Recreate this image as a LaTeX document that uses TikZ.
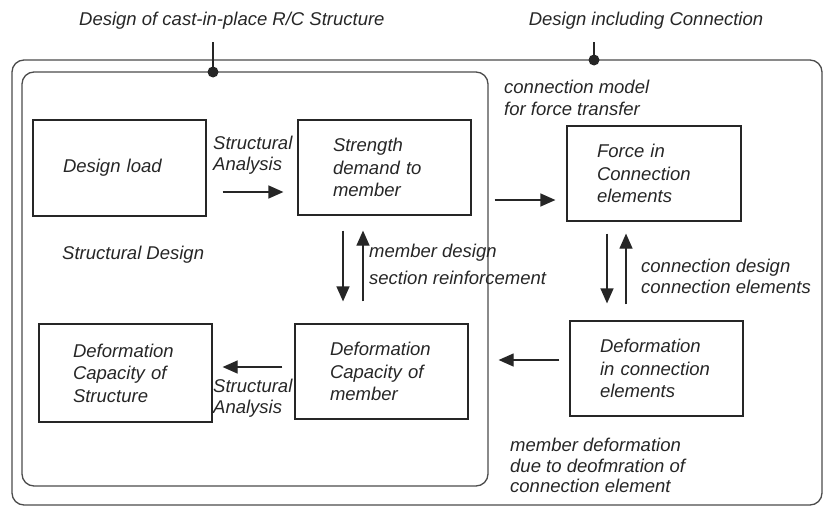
\documentclass[tikz,border=0pt]{standalone}
\usepackage{fontspec}
\setmainfont{Liberation Sans}
\usetikzlibrary{arrows.meta,calc}
\begin{document}
\begin{tikzpicture}[x=1pt,y=-1pt,
  every node/.style={font=\fontsize{18.5}{22.5}\selectfont\itshape, text=black!85, inner sep=0pt},
  frame/.style={draw=black!70, line width=1.3pt, rounded corners=12pt},
  box/.style={draw=black!85, line width=1.2pt, minimum height=95pt, align=left, inner ysep=0pt},
  arr/.style={draw=black!85, line width=1.2pt, -{Triangle[length=15pt,width=13pt]}},
  lbl/.style={anchor=base west},
  pin/.style={draw=black!85, line width=1.2pt},
  dot/.style={fill=black!85, circle, minimum size=11pt, inner sep=0pt}]
\useasboundingbox (0,0) rectangle (823,506);

% outer and inner design frames
\draw[frame] (12,60) rectangle (822,505);
\draw[frame] (22,72) rectangle (488,486);

% frame titles with their pins
\node[anchor=base west] (t1) at (79,25) {Design of cast-in-place R/C Structure};
\node[anchor=base] (t2) at (646,25) {Design including Connection};
\node[dot] (d1) at (213,72) {};
\node[dot] (d2) at (594,60) {};
\coordinate (p1) at (213,42);
\coordinate (p2) at (594,42);
\draw[pin] (p1) -- (d1.center);
\draw[pin] (p2) -- (d2.center);

% process boxes
\node[box, inner xsep=30pt, text width=113pt, minimum height=96pt] (dl) at (119.5,168) {Design load};
\node[box, inner xsep=35pt, text width=103pt] (sd) at (384.5,167.5) {Strength\\demand to\\member};
\node[box, inner xsep=30pt, text width=114pt] (fc) at (654,173.5) {Force in\\Connection\\elements};
\node[box, inner xsep=34pt, text width=105pt, minimum height=98pt] (ds) at (125.5,373) {Deformation\\Capacity of\\Structure};
\node[box, inner xsep=35pt, text width=103pt] (dm) at (381.5,371.5) {Deformation\\Capacity of\\member};
\node[box, inner xsep=30pt, text width=113pt] (dc) at (656.5,368.5) {Deformation\\in connection\\elements};

% connectors
\coordinate (a1) at ($(dl.east)+(16,24)$);
\draw[arr, shorten >=14pt] (a1) -- (a1 -| sd.west);
\coordinate (a2) at ($(sd.east)+(23,32.5)$);
\draw[arr, shorten >=11pt] (a2) -- (a2 -| fc.west);
\coordinate (a3) at ($(sd.south)+(-41.5,15)$);
\draw[arr, shorten >=22pt] (a3) -- (a3 |- dm.north);
\coordinate (a4) at ($(dm.north)+(-18.5,-22)$);
\draw[arr, shorten >=15pt] (a4) -- (a4 |- sd.south);
\coordinate (a5) at ($(fc.south)+(-47,12)$);
\draw[arr, shorten >=17pt] (a5) -- (a5 |- dc.north);
\coordinate (a6) at ($(dc.north)+(-30.5,-16)$);
\draw[arr, shorten >=12pt] (a6) -- (a6 |- fc.south);
\coordinate (a7) at ($(dc.west)+(-10,-8.5)$);
\draw[arr, shorten >=30pt] (a7) -- (a7 -| dm.east);
\coordinate (a8) at ($(dm.west)+(-12,-4.5)$);
\draw[arr, shorten >=10pt] (a8) -- (a8 -| ds.east);

% connector labels
\node[lbl] (sa1) at (213,149) {Structural};
\node[lbl] (sa2) at (213,170) {Analysis};
\node[lbl] (sdes) at (62,259) {Structural Design};
\node[lbl] (md1) at (369,257) {member design};
\node[lbl] (md2) at (369,284) {section reinforcement};
\node[lbl] (cd1) at (641,272) {connection design};
\node[lbl] (cd2) at (641,293) {connection elements};
\node[lbl] (sb1) at (213,392) {Structural};
\node[lbl] (sb2) at (213,413) {Analysis};
\node[lbl] (cm1) at (504,93) {connection model};
\node[lbl] (cm2) at (504,115) {for force transfer};
\node[lbl] (mf1) at (510,451) {member deformation};
\node[lbl] (mf2) at (510,472) {due to deofmration of};
\node[lbl] (mf3) at (510,492) {connection element};
\end{tikzpicture}
\end{document}
